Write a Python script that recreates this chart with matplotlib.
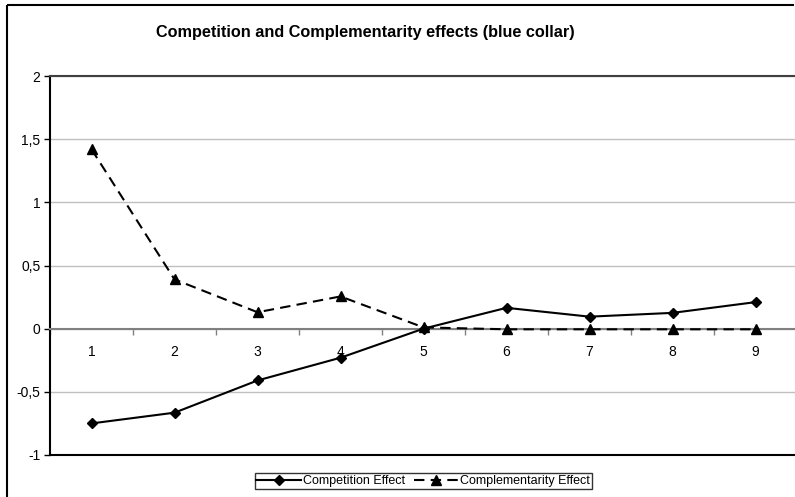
import matplotlib
matplotlib.use("Agg")
import matplotlib.pyplot as plt
from matplotlib.lines import Line2D
from matplotlib.ticker import FuncFormatter, FixedLocator

plt.rcParams['font.family'] = ['Liberation Sans', 'DejaVu Sans']

# data
categories = [1, 2, 3, 4, 5, 6, 7, 8, 9]
competition = [-0.75, -0.665, -0.41, -0.23, 0.0, 0.165, 0.095, 0.125, 0.21]
complementarity = [1.42, 0.39, 0.13, 0.255, 0.01, -0.005, -0.005, -0.005, -0.005]
y_ticks = [-1, -0.5, 0, 0.5, 1, 1.5, 2]

fig = plt.figure(figsize=(7.95, 4.97), dpi=100)

# outer chart frame: only left and top edges are inside the picture
x0 = 7 / 795
top = (497 - 5) / 497
fig.add_artist(Line2D([x0, x0], [-0.1, top], transform=fig.transFigure,
                      color='black', lw=1.5, solid_capstyle='butt'))
fig.add_artist(Line2D([x0, 0.999], [top, top], transform=fig.transFigure,
                      color='black', lw=1.5, solid_capstyle='butt'))

ax = fig.add_axes([50 / 795, 42 / 497, 747 / 795, 379 / 497])

# Plot the two series
ax.plot(categories, complementarity, color='black', lw=1.5, dashes=(5, 3),
        marker='^', markersize=7, label='Complementarity Effect', zorder=4)
ax.plot(categories, competition, color='black', lw=1.5,
        marker='D', markersize=5.5, label='Competition Effect', zorder=5)

ax.set_xlim(0.5, 9.5)
ax.set_ylim(-1, 2)

# gridlines
ax.set_yticks(y_ticks)
ax.yaxis.set_major_formatter(FuncFormatter(lambda v, p: ('%g' % v).replace('.', ',')))
ax.grid(axis='y', color='#c0c0c0', lw=1)
ax.set_axisbelow(True)

# category axis sits at y = 0
ax.spines['bottom'].set_position(('data', 0))
ax.spines['bottom'].set_color('#808080')
ax.spines['bottom'].set_linewidth(1.5)
ax.spines['left'].set_linewidth(1.5)
ax.spines['top'].set_color('#404040')
ax.spines['top'].set_linewidth(1.5)
ax.spines['right'].set_visible(False)
ax.axhline(-1, color='black', lw=1.5, clip_on=False, zorder=6)

ax.set_xticks(categories)
ax.xaxis.set_minor_locator(FixedLocator([c - 0.5 for c in categories] + [9.5]))
ax.tick_params(axis='x', which='major', length=0, pad=12, labelsize=10)
ax.tick_params(axis='x', which='minor', length=4, direction='out', color='#808080', width=1)
ax.tick_params(axis='y', length=4, width=1, direction='out', labelsize=10, pad=3)

fig.text(365 / 795, 1 - 33 / 497, 'Competition and Complementarity effects (blue collar)',
         ha='center', va='center', fontsize=11.7, fontweight='bold')

# legend, competition first
h, l = ax.get_legend_handles_labels()
leg = fig.legend(h[::-1], l[::-1], loc='center', bbox_to_anchor=(423 / 795, 1 - 481 / 497),
                 ncol=2, fontsize=9, frameon=True, fancybox=False, shadow=False,
                 handlelength=3.6, handletextpad=0.1, columnspacing=0.7,
                 borderpad=0.15, borderaxespad=0)
leg.get_frame().set_edgecolor('black')
leg.get_frame().set_linewidth(1)

fig.savefig('out.png', dpi=100)
